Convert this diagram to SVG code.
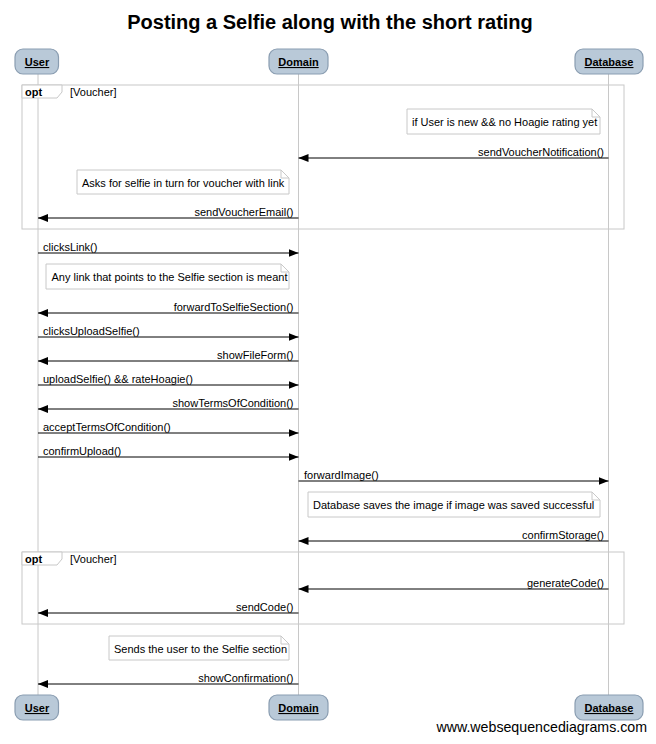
<svg xmlns="http://www.w3.org/2000/svg" width="656" height="744" viewBox="0 0 656 744">
<defs>
<marker id="ah" viewBox="0 0 10 8" refX="10" refY="4" markerWidth="10" markerHeight="8" markerUnits="userSpaceOnUse" orient="auto">
<path d="M0,0 L10,4 L0,8 Z" fill="#000"/>
</marker>
</defs>
<style>
text{font-family:"Liberation Sans",Arial,sans-serif;font-size:11px;fill:#000}
.title{font-size:20px;font-weight:bold}
.actor rect{fill:#b9c9d8;stroke:#8a9db1;stroke-width:1.2}
.actor text{font-weight:bold;text-decoration:underline;text-anchor:middle}
.life{stroke:#c8c8c8;stroke-width:1}
.frame{fill:none;stroke:#c8c8c8;stroke-width:1}
.tab{fill:#fff;stroke:#c8c8c8;stroke-width:1}
.opt{font-weight:bold}
.note path{fill:#fff;stroke:#c8c8c8;stroke-width:1}
.msg line{stroke:#000;stroke-width:1;marker-end:url(#ah)}
.r{text-anchor:end}
.foot{font-size:14.2px;text-anchor:end}
</style>
<rect width="656" height="744" fill="#fff"/>
<text class="title" x="330" y="29" text-anchor="middle">Posting a Selfie along with the short rating</text>

<g id="lifelines">
<line class="life" x1="38" y1="74" x2="38" y2="695"/>
<line class="life" x1="298.5" y1="74" x2="298.5" y2="695"/>
<line class="life" x1="608.5" y1="74" x2="608.5" y2="695"/>
</g>

<g id="frame1">
<rect class="frame" x="22" y="85" width="602" height="144"/>
<path class="tab" d="M22,85 H62 V92 L57,98 H22 Z"/>
<text class="opt" x="25" y="95.5">opt</text>
<text x="70" y="96">[Voucher]</text>
</g>
<g id="frame2">
<rect class="frame" x="22" y="552" width="602" height="72"/>
<path class="tab" d="M22,552 H62 V559 L57,565 H22 Z"/>
<text class="opt" x="25" y="562.5">opt</text>
<text x="70" y="563">[Voucher]</text>
</g>

<g id="actor-user-top" class="actor"><rect x="15" y="49" width="43.5" height="25" rx="8"/><text x="37" y="66">User</text></g>
<g id="actor-domain-top" class="actor"><rect x="269" y="49" width="59" height="25" rx="8"/><text x="298.5" y="66">Domain</text></g>
<g id="actor-database-top" class="actor"><rect x="575" y="49" width="68" height="25" rx="8"/><text x="609" y="66">Database</text></g>

<g id="actor-user-bottom" class="actor"><rect x="15" y="695" width="43.5" height="25" rx="8"/><text x="37" y="712">User</text></g>
<g id="actor-domain-bottom" class="actor"><rect x="269" y="695" width="59" height="25" rx="8"/><text x="298.5" y="712">Domain</text></g>
<g id="actor-database-bottom" class="actor"><rect x="575" y="695" width="68" height="25" rx="8"/><text x="609" y="712">Database</text></g>

<g id="note1" class="note"><path d="M407,109 H592 L600,117 V134 H407 Z M592,109 V117 H600"/><text x="412" y="126">if User is new &amp;&amp; no Hoagie rating yet</text></g>
<g id="note2" class="note"><path d="M77,170 H281 L289,178 V194 H77 Z M281,170 V178 H289"/><text x="82" y="186.5">Asks for selfie in turn for voucher with link</text></g>
<g id="note3" class="note"><path d="M46,264 H281 L289,272 V289 H46 Z M281,264 V272 H289"/><text x="51.5" y="281">Any link that points to the Selfie section is meant</text></g>
<g id="note4" class="note"><path d="M308,492 H592 L600,500 V517 H308 Z M592,492 V500 H600"/><text x="313" y="509">Database saves the image if image was saved successful</text></g>
<g id="note5" class="note"><path d="M109,636 H281 L289,644 V660 H109 Z M281,636 V644 H289"/><text x="114" y="652.5">Sends the user to the Selfie section</text></g>

<g id="connectors" class="msg">
<line x1="608.5" y1="158" x2="298.5" y2="158"/><text class="r" x="604" y="155.5">sendVoucherNotification()</text>
<line x1="298.5" y1="218" x2="38" y2="218"/><text class="r" x="293.5" y="215.5">sendVoucherEmail()</text>
<line x1="38" y1="253" x2="298.5" y2="253"/><text x="43" y="250.5">clicksLink()</text>
<line x1="298.5" y1="313" x2="38" y2="313"/><text class="r" x="293.5" y="310.5">forwardToSelfieSection()</text>
<line x1="38" y1="337" x2="298.5" y2="337"/><text x="43" y="334.5">clicksUploadSelfie()</text>
<line x1="298.5" y1="361" x2="38" y2="361"/><text class="r" x="293.5" y="358.5">showFileForm()</text>
<line x1="38" y1="385" x2="298.5" y2="385"/><text x="43" y="382.5">uploadSelfie() &amp;&amp; rateHoagie()</text>
<line x1="298.5" y1="409" x2="38" y2="409"/><text class="r" x="293.5" y="406.5">showTermsOfCondition()</text>
<line x1="38" y1="433" x2="298.5" y2="433"/><text x="43" y="430.5">acceptTermsOfCondition()</text>
<line x1="38" y1="457" x2="298.5" y2="457"/><text x="43" y="454.5">confirmUpload()</text>
<line x1="298.5" y1="481" x2="608.5" y2="481"/><text x="304" y="478.5">forwardImage()</text>
<line x1="608.5" y1="541" x2="298.5" y2="541"/><text class="r" x="604" y="538.5">confirmStorage()</text>
<line x1="608.5" y1="589" x2="298.5" y2="589"/><text class="r" x="604" y="586.5">generateCode()</text>
<line x1="298.5" y1="613" x2="38" y2="613"/><text class="r" x="293.5" y="610.5">sendCode()</text>
<line x1="298.5" y1="684" x2="38" y2="684"/><text class="r" x="293.5" y="681.5">showConfirmation()</text>
</g>

<text class="foot" x="647" y="732">www.websequencediagrams.com</text>
</svg>
